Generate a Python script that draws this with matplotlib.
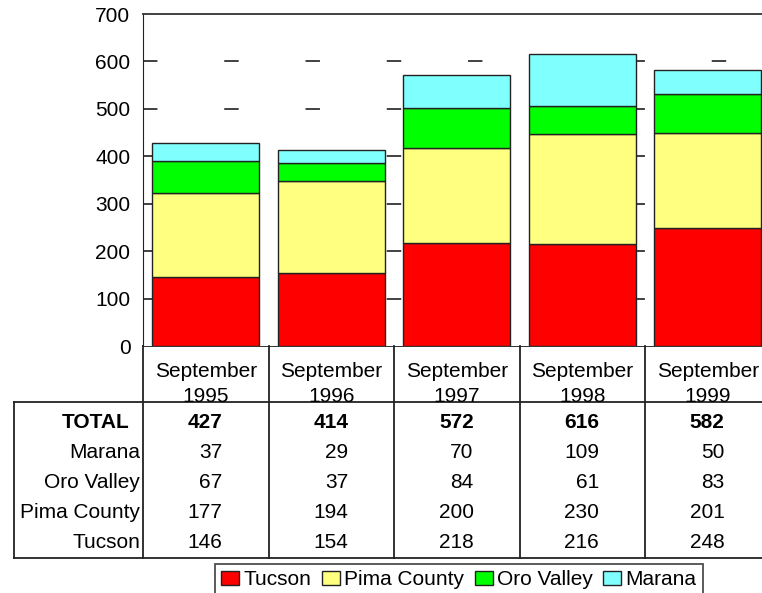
"""Stacked bar chart with data table: September counts 1995-1999."""

import matplotlib
matplotlib.use("Agg")
import matplotlib.pyplot as plt
import matplotlib.transforms as mtransforms
from matplotlib.patches import Patch

FS = 15
plt.rcParams["font.family"] = ["Liberation Sans", "DejaVu Sans"]
plt.rcParams["font.size"] = FS

CATEGORIES = ["September\n1995", "September\n1996", "September\n1997",
              "September\n1998", "September\n1999"]
TUCSON = [146, 154, 218, 216, 248]
PIMA_COUNTY = [177, 194, 200, 230, 201]
ORO_VALLEY = [67, 37, 84, 61, 83]
MARANA = [37, 29, 70, 109, 50]
TOTAL = [427, 414, 572, 616, 582]
Y_TICKS = [0, 100, 200, 300, 400, 500, 600, 700]

SERIES = [
    ("Tucson", TUCSON, "#ff0000"),
    ("Pima County", PIMA_COUNTY, "#ffff80"),
    ("Oro Valley", ORO_VALLEY, "#00ff00"),
    ("Marana", MARANA, "#80ffff"),
]
# table rows, top to bottom
TABLE_ROWS = [("TOTAL", TOTAL), ("Marana", MARANA), ("Oro Valley", ORO_VALLEY),
              ("Pima County", PIMA_COUNTY), ("Tucson", TUCSON)]

W, H = 762, 593
fig = plt.figure(figsize=(W / 100, H / 100), dpi=100)

# overlay in pixel coordinates for the table frame
ov = fig.add_axes([0, 0, 1, 1])
ov.set_xlim(0, W)
ov.set_ylim(H, 0)
ov.axis("off")

ax = fig.add_axes([143 / W, (H - 346) / H, 627.5 / W, 332 / H])
ax.set_xlim(-0.5, 4.5)
ax.set_ylim(0, 700)
n = len(CATEGORIES)
x = list(range(n))

# dashed gridlines behind the bars
lw = 1.3
for yv in Y_TICKS[1:-1]:
    ax.axhline(yv, color="#333333", lw=lw, ls=(0, (10.4 / lw, 48.1 / lw)), zorder=0)

bottom = [0] * n
for name, vals, col in SERIES:
    ax.bar(x, vals, width=0.853, bottom=bottom, color=col, edgecolor="#222222",
           linewidth=1.0, zorder=2)
    bottom = [b + v for b, v in zip(bottom, vals)]

for s in ["right", "bottom"]:
    ax.spines[s].set_visible(False)
ax.spines["left"].set_color("#222222")
ax.spines["top"].set_color("#333333")
ax.spines["top"].set_linewidth(1.3)
ax.set_yticks(Y_TICKS)
ax.tick_params(axis="y", length=0, pad=9, labelsize=FS)
ax.set_xticks([])

# table
bt = mtransforms.blended_transform_factory(ax.transData, ov.transData)
line_kw = dict(color="#222222", lw=1.3, clip_on=False)
ov.plot([143, W], [346, 346], **line_kw)
ov.plot([14, W], [402, 402], **line_kw)
ov.plot([14, W], [558, 558], **line_kw)
ov.plot([14, 14], [402, 558], **line_kw)
ov.plot([143, 143], [346, 558], **line_kw)
for i in range(n - 1):
    ax.plot([i + 0.5, i + 0.5], [346, 558], transform=bt, **line_kw)

for i, lab in enumerate(CATEGORIES):
    ax.text(i, 384, lab, transform=bt, ha="center", va="center",
            fontsize=FS, linespacing=1.4)

row_y = [423, 453, 483, 513, 543]
for (name, vals), yy in zip(TABLE_ROWS, row_y):
    bold = name == "TOTAL"
    ov.text(129 if bold else 140, yy, name, ha="right", va="center",
            fontsize=FS, fontweight="bold" if bold else "normal")
    for i, v in enumerate(vals):
        ax.text(i + 0.135, yy, str(v), transform=bt, ha="right", va="center",
                fontsize=FS, fontweight="bold" if bold else "normal")

handles = [Patch(facecolor=c, edgecolor="#222222", lw=1.0, label=nm)
           for nm, _, c in SERIES]
leg = ov.legend(handles=handles, loc="upper left", ncol=4,
                bbox_to_anchor=(215 / W, 1 - 564 / H), bbox_transform=fig.transFigure,
                frameon=True, fancybox=False, borderaxespad=0, borderpad=0.3,
                handlelength=0.87, handleheight=0.63, handletextpad=0.2,
                columnspacing=0.5, fontsize=FS)
leg.get_frame().set_edgecolor("#222222")
leg.get_frame().set_linewidth(1.3)

fig.savefig("out.png", dpi=100)
